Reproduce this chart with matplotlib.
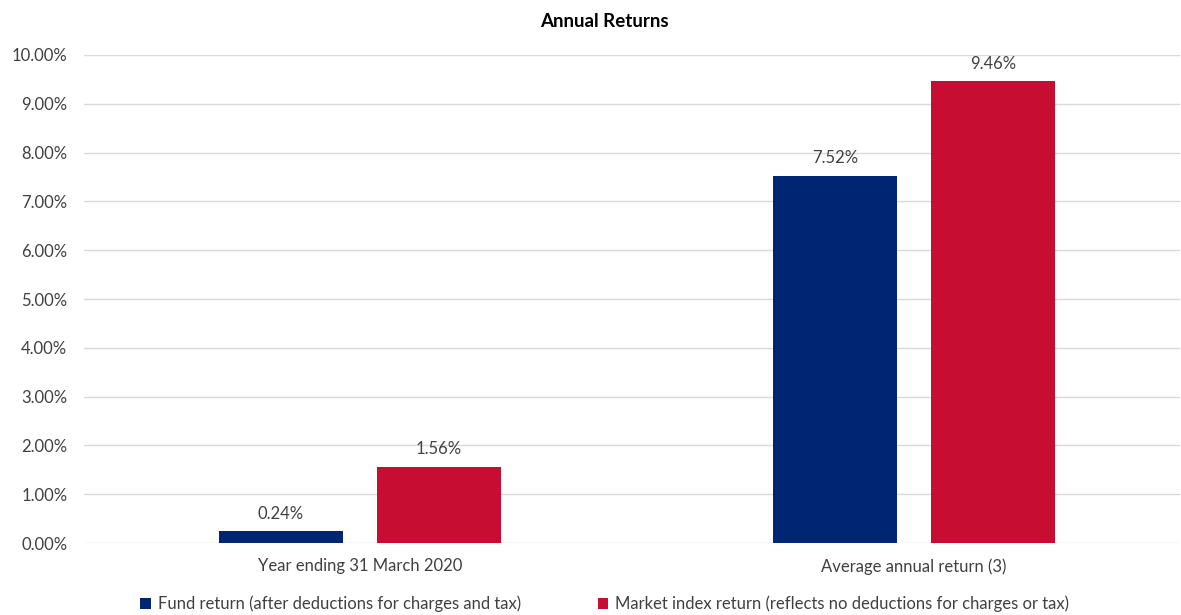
import numpy as np
import matplotlib.pyplot as plt
from matplotlib.ticker import FuncFormatter

categories = ['Year ending 31 March 2020', 'Average annual return (3)']
fund_returns = [0.24, 7.52]
index_returns = [1.56, 9.46]
series_names = ['Fund return (after deductions for charges and tax)',
                'Market index return (reflects no deductions for charges or tax)']

plt.rcParams['font.family'] = ['Lato', 'DejaVu Sans']
navy = '#002673'
red = '#C70D31'
grey = '#404040'

fig = plt.figure(figsize=(11.81, 6.15), dpi=100)
ax = fig.add_axes([0.0711, 0.117, 0.928, 0.7936])

x = np.arange(len(categories))
w = 0.224
off = 0.1426
b1 = ax.bar(x - off, fund_returns, w, color=navy, zorder=3)
b2 = ax.bar(x + off, index_returns, w, color=red, zorder=3)

for bars, vals in ((b1, fund_returns), (b2, index_returns)):
    for bar, v in zip(bars, vals):
        ax.text(bar.get_x() + bar.get_width() / 2, v + 0.2, f'{v:.2f}%',
                ha='center', va='bottom', fontsize=12, color=grey)

ax.set_xlim(-0.498, 1.48)
ax.set_ylim(0, 10)
ax.set_yticks(np.arange(0, 10.5, 1))
ax.yaxis.set_major_formatter(FuncFormatter(lambda v, p: f'{v:.2f}%'))
ax.set_xticks(x)
ax.set_xticklabels(categories)
ax.tick_params(axis='both', length=0, labelsize=12, labelcolor=grey)
ax.tick_params(axis='x', pad=11)
ax.tick_params(axis='y', pad=12)
ax.grid(axis='y', color='#d9d9d9', linewidth=1, zorder=0)
for s in ax.spines.values():
    s.set_visible(False)

fig.text(0.512, 0.965, 'Annual Returns', ha='center', va='center',
         fontsize=13.5, fontweight='bold', color='#000000')

fig.legend([b1, b2], series_names, loc='center', bbox_to_anchor=(0.512, 0.018),
           ncol=2, frameon=False, fontsize=12, handlelength=0.65, handleheight=0.65,
           handletextpad=0.4, columnspacing=4.6, labelcolor=grey)

fig.savefig('out.png', dpi=100)
